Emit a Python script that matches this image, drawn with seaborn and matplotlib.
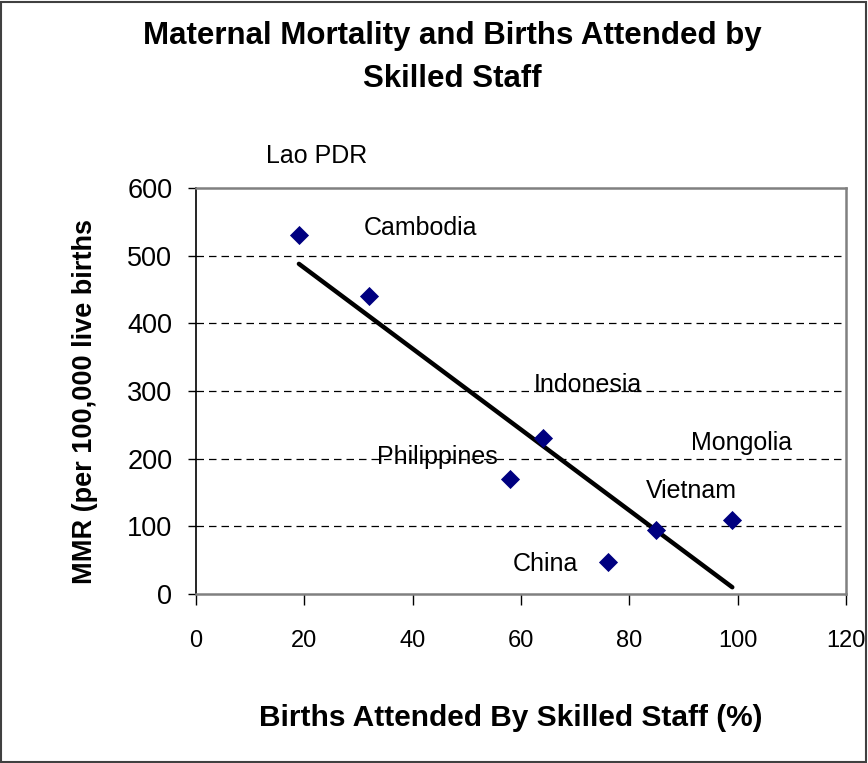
import numpy as np
import pandas as pd
import matplotlib.pyplot as plt
import seaborn as sns
from matplotlib.patches import Rectangle

countries = ['Lao PDR', 'Cambodia', 'Indonesia', 'Philippines', 'China', 'Vietnam', 'Mongolia']
births_skilled = [19, 32, 64, 58, 76, 85, 99]
mmr = [530, 440, 230, 170, 48, 95, 110]

# where Excel put each data label, in pixels from its point (y up)
label_offsets = [(18, 79), (51, 68), (45, 53), (-73, 22), (-62, -2), (35, 39), (9, 77)]

df = pd.DataFrame({'country': countries, 'births': births_skilled, 'mmr': mmr})

sns.set_style('white')
plt.rcParams['font.family'] = ['Liberation Sans', 'DejaVu Sans']
plt.rcParams['text.color'] = 'black'
plt.rcParams['xtick.color'] = 'black'
plt.rcParams['ytick.color'] = 'black'

fig = plt.figure(figsize=(8.68, 7.63), dpi=100)
ax = fig.add_axes([0.2258, 0.2215, 0.7489, 0.5321])

# dashed gridlines first so the marks sit on top
for yv in [100, 200, 300, 400, 500]:
    ax.axhline(yv, color='black', lw=0.9, ls=(0, (6, 4)), zorder=1)

sns.regplot(data=df, x='births', y='mmr', ci=None, scatter=False, ax=ax,
            line_kws={'color': 'black', 'lw': 3.2, 'solid_capstyle': 'round', 'zorder': 2})
sns.scatterplot(data=df, x='births', y='mmr', marker='D', s=95, color='#000080',
                edgecolor='#000080', linewidth=0, ax=ax, zorder=3)

for name, x, y, off in zip(countries, births_skilled, mmr, label_offsets):
    ax.annotate(name, (x, y), xytext=off, textcoords='offset pixels',
                ha='center', va='center', fontsize=18, color='black',
                annotation_clip=False, zorder=4)

ax.set_xlim(0, 120)
ax.set_ylim(0, 600)
ax.set_xticks(range(0, 121, 20))
ax.set_yticks(range(0, 601, 100))
ax.set_xlabel('')
ax.set_ylabel('')

ax.tick_params(axis='x', direction='out', length=8, width=1, pad=18, bottom=True, labelsize=17)
ax.tick_params(axis='y', direction='out', length=6, width=1, pad=11, left=True, labelsize=19.5)

for side in ['top', 'right', 'bottom']:
    ax.spines[side].set_color('#808080')
    ax.spines[side].set_linewidth(1.8)
ax.spines['left'].set_color('black')
ax.spines['left'].set_linewidth(1.2)

fig.text(0.521, 0.953, 'Maternal Mortality and Births Attended by', ha='center', va='center',
         fontsize=22.5, fontweight='bold')
fig.text(0.521, 0.897, 'Skilled Staff', ha='center', va='center',
         fontsize=22.5, fontweight='bold')
fig.text(0.588, 0.059, 'Births Attended By Skilled Staff (%)', ha='center', va='center',
         fontsize=21.5, fontweight='bold')
fig.text(0.098, 0.474, 'MMR (per 100,000 live births', ha='center', va='center',
         rotation=90, fontsize=19.5, fontweight='bold')

# outer chart border
fig.patches.append(Rectangle((0.001, 0.001), 0.997, 0.997, transform=fig.transFigure,
                             fill=False, edgecolor='#404040', lw=1.5))

fig.savefig('out.png', dpi=100)
